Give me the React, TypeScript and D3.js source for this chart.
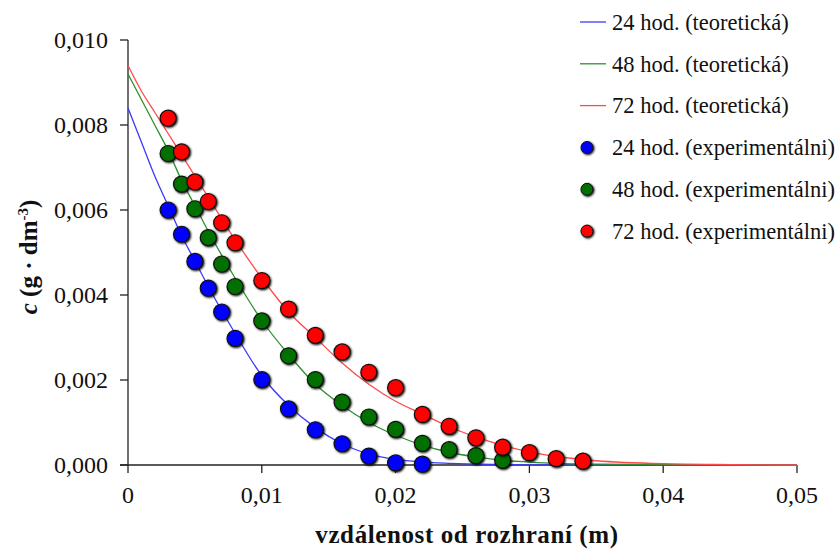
import React from 'react';
import * as d3 from 'd3';

// experimental points
const expX = [0.003, 0.004, 0.005, 0.006, 0.007, 0.008, 0.010, 0.012, 0.014, 0.016, 0.018, 0.020, 0.022, 0.024, 0.026, 0.028, 0.030, 0.032, 0.034];
const exp24 = [0.0060, 0.00543, 0.00479, 0.00416, 0.00360, 0.00298, 0.00201, 0.00132, 0.00083, 0.00050, 0.00021, 0.00005, 0.00002];
const exp48 = [0.00733, 0.00661, 0.00603, 0.00535, 0.00473, 0.00420, 0.00339, 0.00257, 0.00201, 0.00148, 0.00113, 0.00084, 0.00051, 0.00036, 0.00022, 0.00011];
const exp72 = [0.00816, 0.00737, 0.00666, 0.00620, 0.00570, 0.00523, 0.00434, 0.00367, 0.00305, 0.00266, 0.00218, 0.00182, 0.00119, 0.00091, 0.00064, 0.00042, 0.00029, 0.00015, 0.00009];

const theoX = [0, 0.001, 0.002, 0.003, 0.004, 0.005, 0.006, 0.008, 0.010, 0.012, 0.014, 0.016, 0.018, 0.020, 0.022, 0.024, 0.026, 0.028, 0.030, 0.032, 0.035, 0.040, 0.045, 0.050];
const theo24 = [0.0084, 0.0076, 0.0068, 0.0061, 0.0054, 0.0048, 0.0042, 0.0031, 0.0021, 0.0014, 0.00088, 0.0005, 0.00026, 0.00013, 0.00007, 0.00004, 0.00002, 0.00001, 0, 0, 0, 0, 0, 0];
const theo48 = [0.0092, 0.0086, 0.0080, 0.0074, 0.0067, 0.0061, 0.0055, 0.0044, 0.0034, 0.0026, 0.0019, 0.0014, 0.0010, 0.0007, 0.00047, 0.0003, 0.00019, 0.00011, 0.00007, 0.00004, 0.00002, 0.00001, 0, 0];
const theo72 = [0.0094, 0.0088, 0.0083, 0.0078, 0.0073, 0.0068, 0.0063, 0.0053, 0.0044, 0.0036, 0.0030, 0.0024, 0.0019, 0.0015, 0.0012, 0.0009, 0.00066, 0.00046, 0.00031, 0.0002, 0.0001, 0.00003, 0.00001, 0];

const xTicks = [0, 0.01, 0.02, 0.03, 0.04, 0.05];
const xTickLabels = ['0', '0,01', '0,02', '0,03', '0,04', '0,05'];
const yTicks = [0, 0.002, 0.004, 0.006, 0.008, 0.010];
const yTickLabels = ['0,000', '0,002', '0,004', '0,006', '0,008', '0,010'];

const series = [
  { name: '24 hod.', theo: theo24, exp: exp24, line: '#3a3aff', dot: '#0000ff' },
  { name: '48 hod.', theo: theo48, exp: exp48, line: '#2f8f2f', dot: '#006f00' },
  { name: '72 hod.', theo: theo72, exp: exp72, line: '#ff4a4a', dot: '#ff0000' },
];

const font = 'Liberation Serif';

export default function App() {
  const x = d3.scaleLinear().domain([0, 0.05]).range([128, 797]);
  const y = d3.scaleLinear().domain([0, 0.010]).range([465, 40]);
  const line = d3.line<number>()
    .x((_, i) => x(theoX[i]))
    .y((d) => y(d))
    .curve(d3.curveMonotoneX);

  return (
    <svg width={837} height={550} style={{ position: 'absolute', left: 0, top: 0 }}>
      <defs>
        <filter id="sh" x="-50%" y="-50%" width="200%" height="200%">
          <feGaussianBlur in="SourceAlpha" stdDeviation="0.8" />
          <feOffset dx="0.5" dy="0.5" result="b" />
          <feMerge><feMergeNode in="b" /><feMergeNode in="SourceGraphic" /></feMerge>
        </filter>
      </defs>

      {/* axes */}
      <line x1={128} x2={128} y1={y(0.010)} y2={y(0)} stroke="#222" strokeWidth={1.3} />
      <line x1={120} x2={797} y1={y(0)} y2={y(0)} stroke="#222" strokeWidth={1.3} />
      {yTicks.map((t, i) => (
        <g key={'y' + i}>
          <line x1={120} x2={128} y1={y(t)} y2={y(t)} stroke="#222" strokeWidth={1.3} />
          <text x={108} y={y(t)} dy="0.35em" textAnchor="end" fontSize={24} fontFamily={font} fill="#111">{yTickLabels[i]}</text>
        </g>
      ))}
      {xTicks.map((t, i) => (
        <g key={'x' + i}>
          <line x1={x(t)} x2={x(t)} y1={y(0)} y2={y(0) + 8} stroke="#222" strokeWidth={1.3} />
          <text x={x(t)} y={503} textAnchor="middle" fontSize={24} fontFamily={font} fill="#111">{xTickLabels[i]}</text>
        </g>
      ))}

      {/* theoretical curves */}
      {series.map((s) => (
        <path key={'l' + s.name} d={line(s.theo) || ''} fill="none" stroke={s.line} strokeWidth={1.3} />
      ))}

      {/* experimental points */}
      {series.map((s) => (
        <g key={'p' + s.name} filter="url(#sh)">
          {s.exp.map((v, i) => (
            <circle key={i} cx={x(expX[i])} cy={y(v)} r={8} fill={s.dot} stroke="#111" strokeWidth={1.2} />
          ))}
        </g>
      ))}

      {/* axis titles */}
      <text x={467} y={543} textAnchor="middle" fontSize={25} fontWeight="bold" fontFamily={font} letterSpacing={0.6} fill="#111">vzdálenost od rozhraní (m)</text>
      <text transform="translate(37,257) rotate(-90)" textAnchor="middle" fontSize={25} fontWeight="bold" fontFamily={font} fill="#111">
        <tspan fontStyle="italic">c</tspan> (g · dm<tspan dy={-9} fontSize={15}>-3</tspan><tspan dy={9}>)</tspan>
      </text>

      {/* legend */}
      {series.map((s, i) => (
        <g key={'lt' + i} transform={`translate(0,${22 + i * 41.8})`}>
          <line x1={580} x2={606} y1={0} y2={0} stroke={s.line} strokeWidth={1.3} />
          <text x={612} y={0} dy="0.35em" fontSize={22.5} fontFamily={font} fill="#111">{s.name} (teoretická)</text>
        </g>
      ))}
      {series.map((s, i) => (
        <g key={'le' + i} transform={`translate(0,${147.5 + i * 41.8})`}>
          <circle cx={587} cy={0} r={6} fill={s.dot} stroke="#111" strokeWidth={1} filter="url(#sh)" />
          <text x={612} y={0} dy="0.35em" fontSize={22.5} fontFamily={font} fill="#111">{s.name} (experimentálni)</text>
        </g>
      ))}
    </svg>
  );
}
